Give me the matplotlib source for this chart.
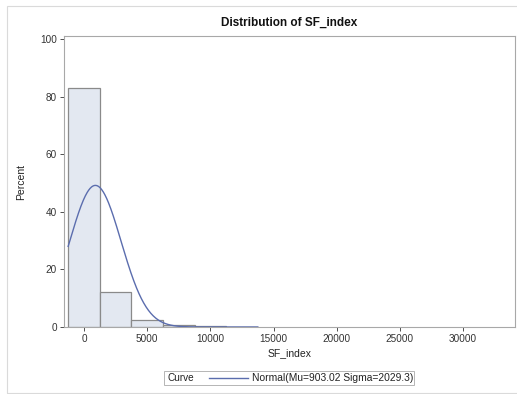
import numpy as np
import matplotlib.pyplot as plt
from matplotlib.patches import Rectangle
from matplotlib.lines import Line2D

plt.rcParams['font.family'] = ['Liberation Sans', 'DejaVu Sans']

# histogram of SF_index: bin midpoints and percent per bin
bin_mids = [0, 2500, 5000, 7500, 10000, 12500]
bin_pct = [82.8, 12.2, 2.5, 0.8, 0.3, 0.15]
bin_width = 2500

# fitted normal curve
mu = 903.02
sigma = 2029.3

x_ticks = [0, 5000, 10000, 15000, 20000, 25000, 30000]
y_ticks = [0, 20, 40, 60, 80, 100]

W, H = 517, 394
fig = plt.figure(figsize=(W / 100, H / 100), dpi=100)

# outer graph frame
fig.patches.append(Rectangle((7 / W, 1 - 393 / H), 1.0, (393 - 6) / H,
                             transform=fig.transFigure, fill=False,
                             edgecolor='#DADADA', linewidth=0.8))

ax = fig.add_axes([64 / W, 1 - 327 / H, (515 - 64) / W, (327 - 36) / H])

ax.bar(bin_mids, bin_pct, width=bin_width, color='#E3E8F1',
       edgecolor='#8A8A8A', linewidth=0.9, zorder=2)

xs = np.linspace(bin_mids[0] - bin_width / 2, bin_mids[-1] + bin_width / 2, 400)
ys = 100 * bin_width / (sigma * np.sqrt(2 * np.pi)) * np.exp(-0.5 * ((xs - mu) / sigma) ** 2)
ax.plot(xs, ys, color='#5B6DAE', linewidth=1.0, zorder=3)

ax.set_xlim(-1580, 34100)
ax.set_ylim(0, 101)
ax.set_xticks(x_ticks)
ax.set_yticks(y_ticks)
ax.tick_params(labelsize=7.2, colors='#333333', length=3, width=0.6,
               direction='out', pad=2)
for t in ax.get_xticklines() + ax.get_yticklines():
    t.set_color('#8A8A8A')
for s in ax.spines.values():
    s.set_color('#A8A8A8')
    s.set_linewidth(0.8)

ax.set_xlabel('SF_index', fontsize=7.5, color='#222222', labelpad=3)
ax.set_ylabel('Percent', fontsize=7.5, color='#222222', labelpad=10)
ax.set_title('Distribution of SF_index', fontsize=8.5, fontweight='bold',
             color='#111111', pad=7)

# legend strip under the axes
fig.patches.append(Rectangle((164 / W, 1 - 385 / H), (414 - 164) / W, 14 / H,
                             transform=fig.transFigure, fill=False,
                             edgecolor='#B5B5B5', linewidth=0.7))
fig.text(168 / W, 1 - 378 / H, 'Curve', fontsize=7.2, va='center', color='#222222')
fig.lines.append(Line2D([209 / W, 248 / W], [1 - 378 / H, 1 - 378 / H],
                        transform=fig.transFigure, color='#5B6DAE', linewidth=1.0))
fig.text(252 / W, 1 - 378 / H, 'Normal(Mu=%.2f Sigma=%.1f)' % (mu, sigma),
         fontsize=7.4, va='center', color='#222222')

fig.savefig('out.png', dpi=100)
